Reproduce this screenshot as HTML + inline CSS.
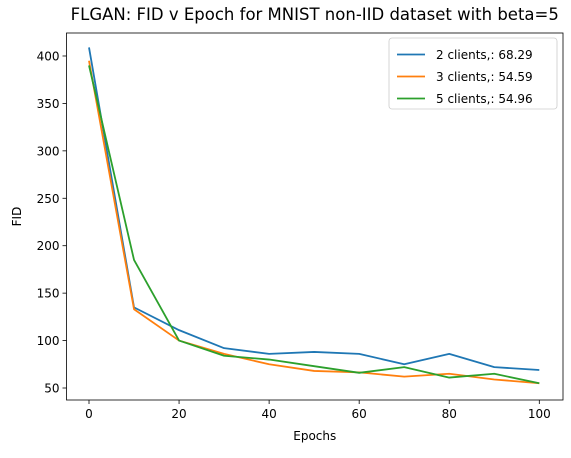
<!DOCTYPE html>
<html><head><meta charset="utf-8"><style>
body{margin:0;background:#fff;font-family:"Liberation Sans","DejaVu Sans",sans-serif;}
svg text{font-family:"DejaVu Sans","Liberation Sans",sans-serif;}
</style></head><body>
<svg id="chart" width="571" height="453" xmlns="http://www.w3.org/2000/svg"></svg>
<script>
const epochs=[0,10,20,30,40,50,60,70,80,90,100];
const fid2=[409,135,111,92,86,88,86,75,86,72,69];
const fid3=[395,133,100,86,75,68,66.5,62,65,59,55];
const fid5=[390,185,100,84,80,73,66,72,61,65,55];
const xTicks=[0,20,40,60,80,100];
const yTicks=[50,100,150,200,250,300,350,400];
const seriesNames=["2 clients,: 68.29","3 clients,: 54.59","5 clients,: 54.96"];
const colors=["#1f77b4","#ff7f0e","#2ca02c"];
const L=66.5,R=563,T=33,B=400;
const sx=v=>89+(v-0)*(539.3-89)/100;
const sy=v=>388-(v-50)*0.9486;
const svg=document.getElementById('chart');
const NS="http://www.w3.org/2000/svg";
function mk(tag,attrs,parent){const e=document.createElementNS(NS,tag);for(const k in attrs)e.setAttribute(k,attrs[k]);(parent||svg).appendChild(e);return e;}
let t=mk('text',{x:(L+R)/2,y:20,'text-anchor':'middle','font-size':16.5,fill:'#000'});
t.textContent="FLGAN: FID v Epoch for MNIST non-IID dataset with beta=5";


xTicks.forEach(v=>{
 const l=mk('line',{x1:sx(v),x2:sx(v),y1:B,y2:B+4,stroke:'#000','stroke-width':0.8});
 
 
 const tx=mk('text',{x:sx(v),y:B+18,'text-anchor':'middle','font-size':12,fill:'#000'});
 tx.textContent=v;
 
 
});
yTicks.forEach(v=>{
 const l=mk('line',{x1:L-4,x2:L,y1:sy(v),y2:sy(v),stroke:'#000','stroke-width':0.8});
 
 
 const tx=mk('text',{x:L-7,y:sy(v)+4.5,'text-anchor':'end','font-size':12,fill:'#000'});
 tx.textContent=v;
 
 
});
let xl=mk('text',{x:(L+R)/2,y:440,'text-anchor':'middle','font-size':12,fill:'#000'});
xl.textContent="Epochs";


let yl=mk('text',{x:0,y:0,'text-anchor':'middle','font-size':12,fill:'#000',transform:`translate(21,${(T+B)/2}) rotate(-90)`});
yl.textContent="FID";


[fid2,fid3,fid5].forEach((s,i)=>{
 const p=mk('polyline',{points:s.map((v,j)=>sx(epochs[j])+','+sy(v)).join(' '),fill:'none',stroke:colors[i],'stroke-width':1.8,'stroke-linejoin':'round'});
 
 
});
let fr=mk('rect',{x:L,y:T,width:R-L,height:B-T,fill:'none',stroke:'#000','stroke-width':0.8});


const lg=mk('g',{});


mk('rect',{x:389,y:38,width:168,height:71,rx:3,fill:'#fff','fill-opacity':0.8,stroke:'#ccc','stroke-width':0.8},lg);
seriesNames.forEach((n,i)=>{
 const y=55+i*22;
 const ln=mk('line',{x1:397,x2:425,y1:y-0.5,y2:y-0.5,stroke:colors[i],'stroke-width':1.8},lg);
 
 
 const tx=mk('text',{x:436,y:y+4,'font-size':12,fill:'#000'},lg);
 tx.textContent=n;
 
 
});
</script>
</body></html>
